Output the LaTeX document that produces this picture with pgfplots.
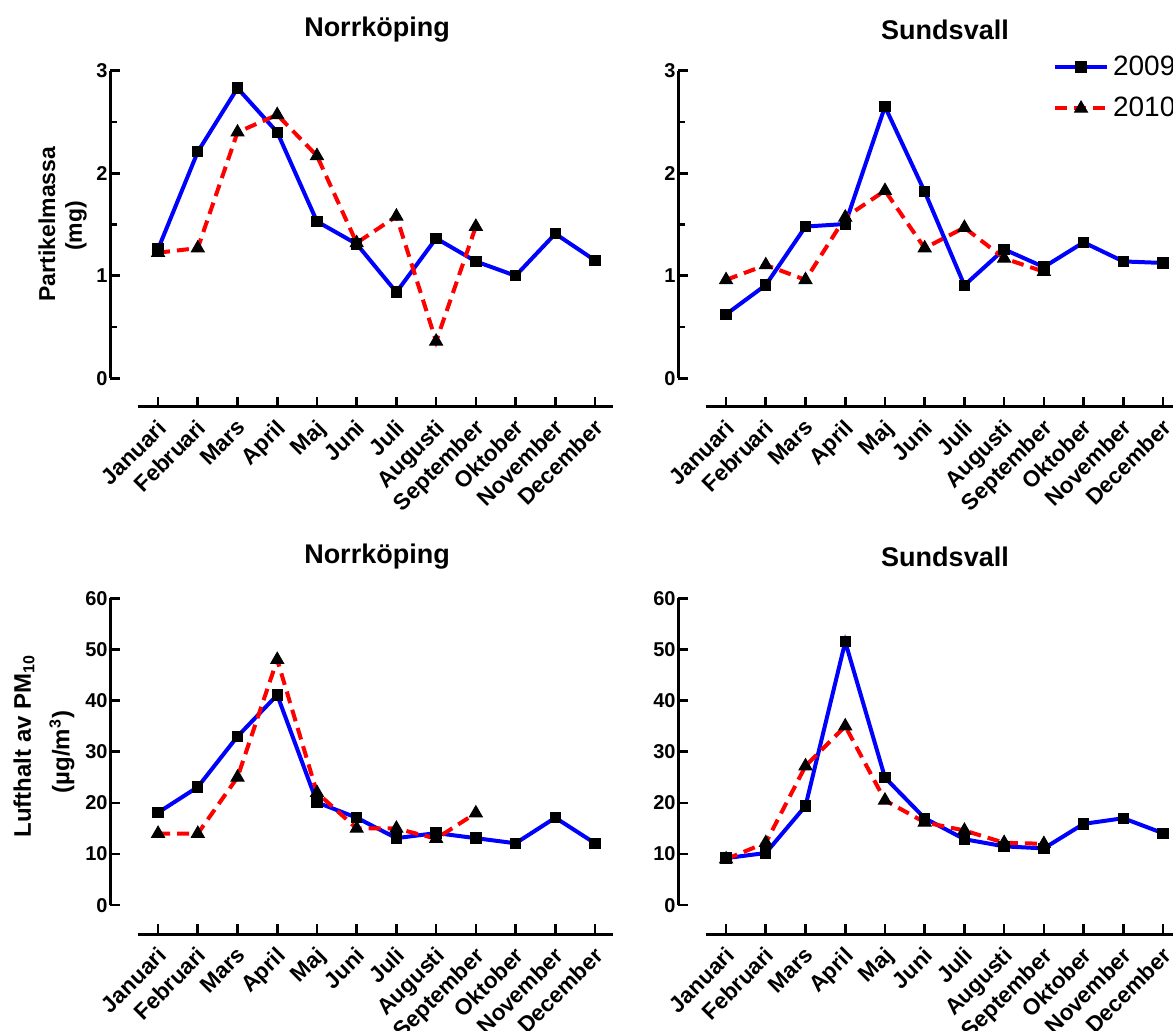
\documentclass[border=0pt]{standalone}
\usepackage{fontspec}
\setmainfont{Liberation Sans}
\usepackage{pgfplots}
\pgfplotsset{compat=1.18}

\definecolor{cblue}{RGB}{0,0,255}
\definecolor{cred}{RGB}{255,0,0}

\pgfplotsset{
 panel/.style={
   scale only axis, width=251.45pt, height=168pt,
   anchor=south west, clip=false,
   xmin=-1.21, xmax=11.45,
   axis lines=left, axis line style={draw=none},
   tick align=inside,
   xtick={0,...,11},
   xticklabels={Januari,Februari,Mars,April,Maj,Juni,Juli,Augusti,September,Oktober,November,December},
   xticklabel style={yshift=-4pt, xshift=-1pt, rotate=45, anchor=north east, font=\bfseries\fontsize{11.3}{13}\selectfont, inner sep=1pt},
   yticklabel style={font=\bfseries\fontsize{10}{12}\selectfont, inner sep=0pt, xshift=-1pt},
   /pgf/number format/assume math mode=true,
   major tick length=5pt, minor tick length=3.5pt,
   tick style={black, line width=1.3pt},
   every axis plot/.append style={line width=2pt},
 },
 s09/.style={cblue, solid, mark=square*, mark size=2.6pt, mark options={black, solid, line width=0.5pt}},
 s10/.style={cred, dash pattern=on 6pt off 3.5pt, mark=triangle*, mark size=3.7pt, mark options={black, solid, line width=0.5pt}},
}

\begin{document}
\begin{tikzpicture}
\path[use as bounding box] (0,0) rectangle (586.5pt,-515pt);

% titles
\node[font=\bfseries\fontsize{13.5}{15}\selectfont] at (188.5pt,-15pt) {Norrköping};
\node[font=\bfseries\fontsize{13.5}{15}\selectfont] at (472.5pt,-15pt) {Sundsvall};
\node[font=\bfseries\fontsize{13.5}{15}\selectfont] at (188.5pt,-278.5pt) {Norrköping};
\node[font=\bfseries\fontsize{13.5}{15}\selectfont] at (472.5pt,-278.5pt) {Sundsvall};

% y labels
\node[rotate=90, font=\bfseries\fontsize{11.5}{13}\selectfont] at (23.5pt,-112pt) {Partikelmassa};
\node[rotate=90, font=\bfseries\fontsize{11.5}{13}\selectfont] at (38pt,-113pt) {(mg)};
\node[rotate=90, font=\bfseries\fontsize{12}{14}\selectfont] at (12pt,-373pt) {Lufthalt av PM\textsubscript{10}};
\node[rotate=90, font=\bfseries\fontsize{12}{14}\selectfont] at (31pt,-376pt) {(µg/m\textsuperscript{3})};

% ---------- top left
\begin{axis}[panel, at={(55pt,-203.35pt)}, ymin=-0.277, ymax=3,
  ytick={0,1,2,3}, minor ytick={0.5,1.5,2.5}]
\addplot[s09] coordinates {(0,1.26) (1,2.21) (2,2.83) (3,2.40) (4,1.53) (5,1.31) (6,0.84) (7,1.365) (8,1.14) (9,1.00) (10,1.41) (11,1.15)};
\addplot[s10] coordinates {(0,1.225) (1,1.27) (2,2.40) (3,2.57) (4,2.17) (5,1.32) (6,1.58) (7,0.36) (8,1.48)};
\draw[line width=1.5pt] (axis cs:-1.21,0) -- (axis cs:-1.21,3);
\draw[line width=1.5pt] (axis cs:-0.5,-0.277) -- (axis cs:11.45,-0.277);
\end{axis}

% ---------- top right
\begin{axis}[panel, at={(339pt,-203.35pt)}, ymin=-0.277, ymax=3,
  ytick={0,1,2,3}, minor ytick={0.5,1.5,2.5},
  legend style={at={(0.745,1.058)}, anchor=north west, draw=none, fill=none,
    font=\fontsize{14}{16}\selectfont, row sep=5.5pt, inner sep=0pt},
  legend cell align=left,
  legend image code/.code={\draw[mark repeat=2,mark phase=2] plot coordinates {(0pt,0pt) (13pt,0pt) (26pt,0pt)};}]
\addplot[s09] coordinates {(0,0.624) (1,0.91) (2,1.48) (3,1.505) (4,2.65) (5,1.82) (6,0.907) (7,1.258) (8,1.085) (9,1.326) (10,1.14) (11,1.125)};
\addlegendentry{2009}
\addplot[s10] coordinates {(0,0.96) (1,1.105) (2,0.96) (3,1.57) (4,1.83) (5,1.27) (6,1.47) (7,1.17) (8,1.04)};
\addlegendentry{2010}
\draw[line width=1.5pt] (axis cs:-1.21,0) -- (axis cs:-1.21,3);
\draw[line width=1.5pt] (axis cs:-0.5,-0.277) -- (axis cs:11.6,-0.277);
\end{axis}

% ---------- bottom left
\begin{axis}[panel, at={(55pt,-467.15pt)}, ymin=-5.7, ymax=60,
  ytick={0,10,...,60}]
\addplot[s09] coordinates {(0,18.1) (1,23.1) (2,33.0) (3,41.1) (4,20.1) (5,17.1) (6,13.1) (7,14.1) (8,13.1) (9,12.1) (10,17.1) (11,12.1)};
\addplot[s10] coordinates {(0,14) (1,14) (2,25) (3,48) (4,22) (5,15) (6,15) (7,13) (8,18)};
\draw[line width=1.5pt] (axis cs:-1.21,0) -- (axis cs:-1.21,60);
\draw[line width=1.5pt] (axis cs:-0.5,-5.7) -- (axis cs:11.45,-5.7);
\end{axis}

% ---------- bottom right
\begin{axis}[panel, at={(339pt,-467.15pt)}, ymin=-5.7, ymax=60,
  ytick={0,10,...,60}]
\addplot[s09] coordinates {(0,9.2) (1,10.2) (2,19.4) (3,51.5) (4,24.95) (5,17.0) (6,12.9) (7,11.5) (8,11.1) (9,15.9) (10,17.0) (11,14.07)};
\addplot[s10] coordinates {(0,9.0) (1,12.2) (2,27.2) (3,35.0) (4,20.5) (5,16.2) (6,14.6) (7,12.2) (8,12.0)};
\draw[line width=1.5pt] (axis cs:-1.21,0) -- (axis cs:-1.21,60);
\draw[line width=1.5pt] (axis cs:-0.5,-5.7) -- (axis cs:11.6,-5.7);
\end{axis}
\end{tikzpicture}
\end{document}
